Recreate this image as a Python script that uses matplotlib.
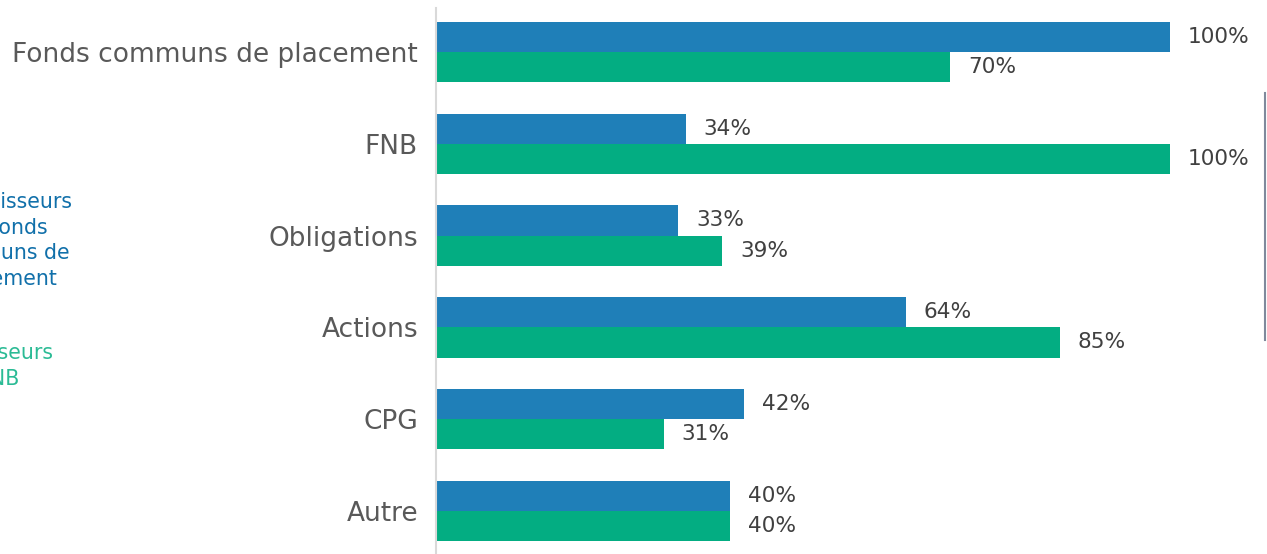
import numpy as np
import matplotlib.pyplot as plt
from matplotlib.lines import Line2D

categories = ["Fonds communs de placement", "FNB", "Obligations", "Actions", "CPG", "Autre"]
fonds_vals = [100, 34, 33, 64, 42, 40]
fnb_vals = [70, 100, 39, 85, 31, 40]

blue = "#1F7FB8"
green = "#03AD82"

fig = plt.figure(figsize=(12.67, 5.54), dpi=100)
W, H = 1267, 554
ax = fig.add_axes([436 / W, 0, (1170 - 436) / W, (554 - 8) / H])

y = np.arange(len(categories))
h = 0.33
ax.barh(y - h / 2, fonds_vals, height=h, color=blue, edgecolor="none")
ax.barh(y + h / 2, fnb_vals, height=h, color=green, edgecolor="none")

for yi, v in zip(y - h / 2, fonds_vals):
    ax.annotate(f"{v}%", (v, yi), xytext=(13, 0), textcoords="offset points",
                ha="left", va="center", fontsize=15.6, color="#404040", annotation_clip=False)
for yi, v in zip(y + h / 2, fnb_vals):
    ax.annotate(f"{v}%", (v, yi), xytext=(13, 0), textcoords="offset points",
                ha="left", va="center", fontsize=15.6, color="#404040", annotation_clip=False)

ax.set_xlim(0, 100)
ax.set_ylim(len(categories) - 1 + 0.47, -0.48)
ax.set_yticks(y)
ax.set_yticklabels(categories, fontsize=19, color="#595959")
ax.tick_params(axis="y", length=0, pad=13)
ax.set_xticks([])
for s in ["top", "right", "bottom"]:
    ax.spines[s].set_visible(False)
ax.spines["left"].set_color("#d9d9d9")
ax.spines["left"].set_linewidth(1.5)

# legend text, cut off at the left edge like in the source
blue_lines = [("Investisseurs", 72, 202), ("en fonds", 48, 228),
              ("communs de", 70, 253), ("placement", 57, 279)]
green_lines = [("Investisseurs", 53, 353), ("en FNB", 19, 379)]
for txt, xr, yc in blue_lines:
    fig.text(xr / W, 1 - yc / H, txt, ha="right", va="center", fontsize=14.8, color="#1170AA")
for txt, xr, yc in green_lines:
    fig.text(xr / W, 1 - yc / H, txt, ha="right", va="center", fontsize=14.8, color="#2BBB95")

# bracket line at right edge
fig.add_artist(Line2D([1265 / W, 1265 / W], [1 - 93 / H, 1 - 340 / H],
                      transform=fig.transFigure, color="#7f8a9c", linewidth=1.5))

fig.savefig("out.png", dpi=100)
